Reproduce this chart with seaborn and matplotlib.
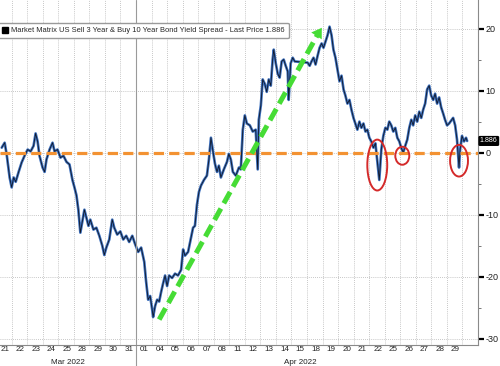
import matplotlib.pyplot as plt
import matplotlib.transforms as mtransforms
from matplotlib.patches import Ellipse, Patch
import pandas as pd
import seaborn as sns

# intraday path; x is in trading days from Mar 21 (day boundaries on whole numbers)
session_t = [
    0.36, 0.55, 0.68, 0.87, 1.00, 1.13, 1.26, 1.45, 1.64, 1.83,
    2.03, 2.22, 2.41, 2.54, 2.67, 2.79, 2.99, 3.12, 3.24, 3.44,
    3.63, 3.76, 3.95, 4.14, 4.33, 4.53, 4.72, 4.91, 5.04, 5.17,
    5.29, 5.42, 5.55, 5.68, 5.81, 5.94, 6.06, 6.26, 6.45, 6.64,
    6.83, 6.96, 7.09, 7.28, 7.47, 7.60, 7.79, 7.99, 8.18, 8.37,
    8.56, 8.76, 8.95, 9.14, 9.33, 9.53, 9.65, 9.78, 9.91, 10.04,
    10.10, 10.23, 10.36, 10.49, 10.62, 10.74, 10.87, 11.00, 11.13, 11.32,
    11.51, 11.70, 11.90, 12.03, 12.15, 12.35, 12.54, 12.67, 12.79, 12.92,
    13.05, 13.18, 13.37, 13.56, 13.69, 13.82, 13.95, 14.08, 14.21, 14.33,
    14.46, 14.65, 14.85, 14.97, 15.10, 15.23, 15.42, 15.62, 15.74, 15.87,
    16.00, 16.13, 16.32, 16.51, 16.70, 16.83, 16.90, 17.03, 17.15, 17.28,
    17.41, 17.54, 17.67, 17.79, 17.86, 17.99, 18.12, 18.24, 18.37, 18.50,
    18.63, 18.76, 18.82, 18.95, 19.08, 19.21, 20.04, 20.17, 20.29, 20.42,
    20.55, 20.68, 20.81, 20.94, 21.06, 21.19, 21.32, 21.45, 21.58, 21.70,
    21.83, 21.96, 22.09, 22.22, 22.35, 22.47, 22.60, 22.73, 22.86, 22.99,
    23.11, 23.24, 23.37, 23.50, 23.63, 23.76, 23.88, 24.01, 24.14, 24.27,
    24.40, 24.53, 24.65, 24.78, 24.91, 25.04, 25.17, 25.29, 25.42, 25.55,
    25.68, 25.81, 25.94, 26.06, 26.19, 26.32, 26.45, 26.58, 26.71, 26.83,
    26.96, 27.09, 27.22, 27.35, 27.47, 27.60, 27.73, 27.86, 27.99, 28.12,
    28.24, 28.37, 28.50, 28.63, 28.76, 28.88, 29.01, 29.14, 29.40, 29.53,
    29.65, 29.78, 29.85, 29.97, 30.10, 30.23, 30.30,
]
spread = [
    0.8, 1.6, -0.3, -4.0, -5.6, -4.0, -4.7, -3.1, -1.6, -0.5,
    0.5, 0.2, 1.1, 3.1, 1.8, -0.5, -2.4, -3.1, -1.1, 0.5,
    1.6, 0.2, 0.5, -0.8, -0.5, -1.5, -1.9, -4.4, -5.6, -6.9,
    -9.2, -12.9, -11.1, -9.2, -10.5, -11.8, -10.8, -12.4, -12.1, -13.4,
    -15.0, -16.5, -15.3, -14.0, -10.8, -12.1, -13.2, -12.7, -14.0, -13.4,
    -14.4, -13.4, -14.8, -16.0, -15.3, -17.6, -20.8, -23.7, -23.1, -25.3,
    -26.5, -24.7, -23.7, -24.0, -22.4, -21.1, -19.8, -21.5, -19.8, -20.2,
    -19.5, -19.8, -18.9, -15.6, -16.6, -16.0, -13.7, -12.1, -11.8, -8.4,
    -6.3, -5.3, -4.4, -3.7, -1.1, 2.4, 0.2, -1.8, -3.1, -2.1,
    -4.0, -2.7, -1.5, -0.2, -1.1, -3.1, -3.7, -2.4, -2.7, 3.7,
    6.0, 4.7, 4.4, 3.4, 3.7, -2.7, 5.3, 7.6, 11.8, 11.1,
    9.8, 11.8, 10.8, 15.0, 16.6, 14.4, 12.7, 12.1, 14.7, 15.0,
    14.0, 13.1, 8.5, 14.4, 15.3, 14.7, 14.5, 14.0, 14.7, 15.3,
    14.2, 15.6, 16.9, 17.6, 16.9, 17.9, 18.9, 20.3, 18.9, 16.6,
    15.3, 13.4, 11.5, 12.4, 10.2, 9.2, 7.9, 8.5, 6.9, 5.6,
    4.7, 3.7, 5.0, 4.0, 4.7, 3.4, 3.7, 2.4, 1.8, 0.8,
    1.5, -1.5, -4.4, 0.5, 2.7, 4.0, 3.7, 5.0, 4.4, 3.4,
    4.0, 2.4, 1.8, 0.8, 0.0, 1.1, 2.1, 4.0, 5.3, 4.4,
    6.0, 5.0, 6.6, 5.6, 6.9, 7.9, 10.2, 10.8, 9.2, 8.5,
    9.5, 7.9, 8.9, 7.3, 6.3, 5.3, 4.4, 4.7, 5.6, 4.4,
    2.1, -2.4, 0.5, 2.7, 1.8, 2.4, 1.886,
]

day_labels = ['21', '22', '23', '24', '25', '28', '29', '30', '31', '01',
              '04', '05', '06', '07', '08', '11', '12', '13', '14', '15',
              '18', '19', '20', '21', '22', '25', '26', '27', '28', '29']
month_labels = ['Mar 2022', 'Apr 2022']
month_centers = [4.6, 19.6]
month_break = 9
y_major = [20, 10, 0, -10, -20, -30]
y_minor = [15, 5, -5, -15, -25]
last_price = 1.886
title = 'Market Matrix US Sell 3 Year & Buy 10 Year Bond Yield Spread - Last Price 1.886'

# annotations drawn on top
trend_from = (10.49, -26.9)
trend_to = (21.05, 20.5)
circle_t = [24.52, 26.13, 29.78]
circle_v = [-2.0, -0.5, -1.3]

df = pd.DataFrame({'t': session_t, 'spread': spread})

sns.set_style('white')
plt.rcParams['font.family'] = ['Liberation Sans', 'DejaVu Sans']

fig = plt.figure(figsize=(5, 3.66), dpi=100)
ax = fig.add_axes([0, 0.0574, 0.956, 0.9426])

sns.lineplot(data=df, x='t', y='spread', ax=ax, color='#3d70bd',
             lw=1.9, estimator=None, sort=False)
sns.lineplot(data=df, x='t', y='spread', ax=ax, color='#0a0d18',
             lw=0.6, alpha=0.9, estimator=None, sort=False)

ax.set_xlim(0.25, 31.0)
ax.set_ylim(-31.0, 24.6)

# grid on day boundaries, labels near the middle of each day
ax.set_xticks(range(1, 31))
ax.set_xticklabels([])
ax.set_xticks([i + 0.55 for i in range(len(day_labels))], minor=True)
ax.set_xticklabels(day_labels, minor=True)
ax.tick_params(axis='x', which='both', length=0, labelsize=5.8, pad=1, colors='#222222')
ax.grid(axis='x', which='major', color='#b5b5b5', lw=0.6, ls=(0, (1, 1.5)))
ax.grid(axis='x', which='minor', visible=False)
ax.axvline(month_break, ymin=-0.06, ymax=1, clip_on=False, color='#9a9a9a', lw=0.8)

for lab, t in zip(month_labels, month_centers):
    ax.text(t, 0.0, lab, transform=mtransforms.blended_transform_factory(ax.transData, fig.transFigure),
            ha='center', va='bottom', fontsize=5.8, color='#222222')

ax.yaxis.tick_right()
ax.set_yticks(y_major)
ax.set_yticklabels([str(v) for v in y_major])
ax.set_yticks(y_minor, minor=True)
ax.tick_params(axis='y', which='major', length=4, width=1.6, color='black',
               labelsize=6.5, pad=1.5, labelcolor='#222222')
ax.tick_params(axis='y', which='minor', length=2, width=0.7, color='#777777')
ax.grid(axis='y', which='major', color='#b5b5b5', lw=0.6, ls=(0, (1, 1.5)))
ax.set_xlabel('')
ax.set_ylabel('')

for side in ['left', 'top']:
    ax.spines[side].set_visible(False)
for side in ['right', 'bottom']:
    ax.spines[side].set_color('#8a8a8a')
    ax.spines[side].set_linewidth(0.8)

# orange zero line
ax.axhline(0, color='#f39232', lw=2.3, dashes=(3.2, 1.6), zorder=3)

# green trend arrow
ax.plot([trend_from[0], trend_to[0] - 0.35], [trend_from[1], trend_to[1] - 1.4],
        color='#46dc35', lw=3.6, dashes=(2.6, 1.2), solid_capstyle='butt', zorder=4)
ax.annotate('', xy=trend_to, xytext=(trend_to[0] - 0.6, trend_to[1] - 2.3),
            arrowprops=dict(arrowstyle='-|>,head_length=0.7,head_width=0.45',
                            color='#46dc35', lw=0), zorder=4)

# red circles
for t, v, w, h in zip(circle_t, circle_v, [1.28, 0.9, 1.15], [8.2, 2.9, 5.1]):
    ax.add_patch(Ellipse((t, v), w, h, fill=False, ec='#d42a2a', lw=1.4, zorder=5))

# last price tag
ytrans = mtransforms.blended_transform_factory(ax.transAxes, ax.transData)
ax.text(1.004, last_price, f'{last_price:.3f}', transform=ytrans, ha='left', va='center',
        fontsize=5.1, color='white', clip_on=False,
        bbox=dict(boxstyle='round,pad=0.12', fc='black', ec='black'))

ax.legend(handles=[Patch(facecolor='black', edgecolor='black')], labels=[title],
          loc='upper left', bbox_to_anchor=(-0.004, 0.934), fontsize=5.4,
          frameon=True, fancybox=True, edgecolor='#9a9a9a', framealpha=1,
          borderpad=0.55, handlelength=0.8, handleheight=0.8, handletextpad=0.4,
          borderaxespad=0)

plt.savefig('out.png', dpi=100)
plt.close()
